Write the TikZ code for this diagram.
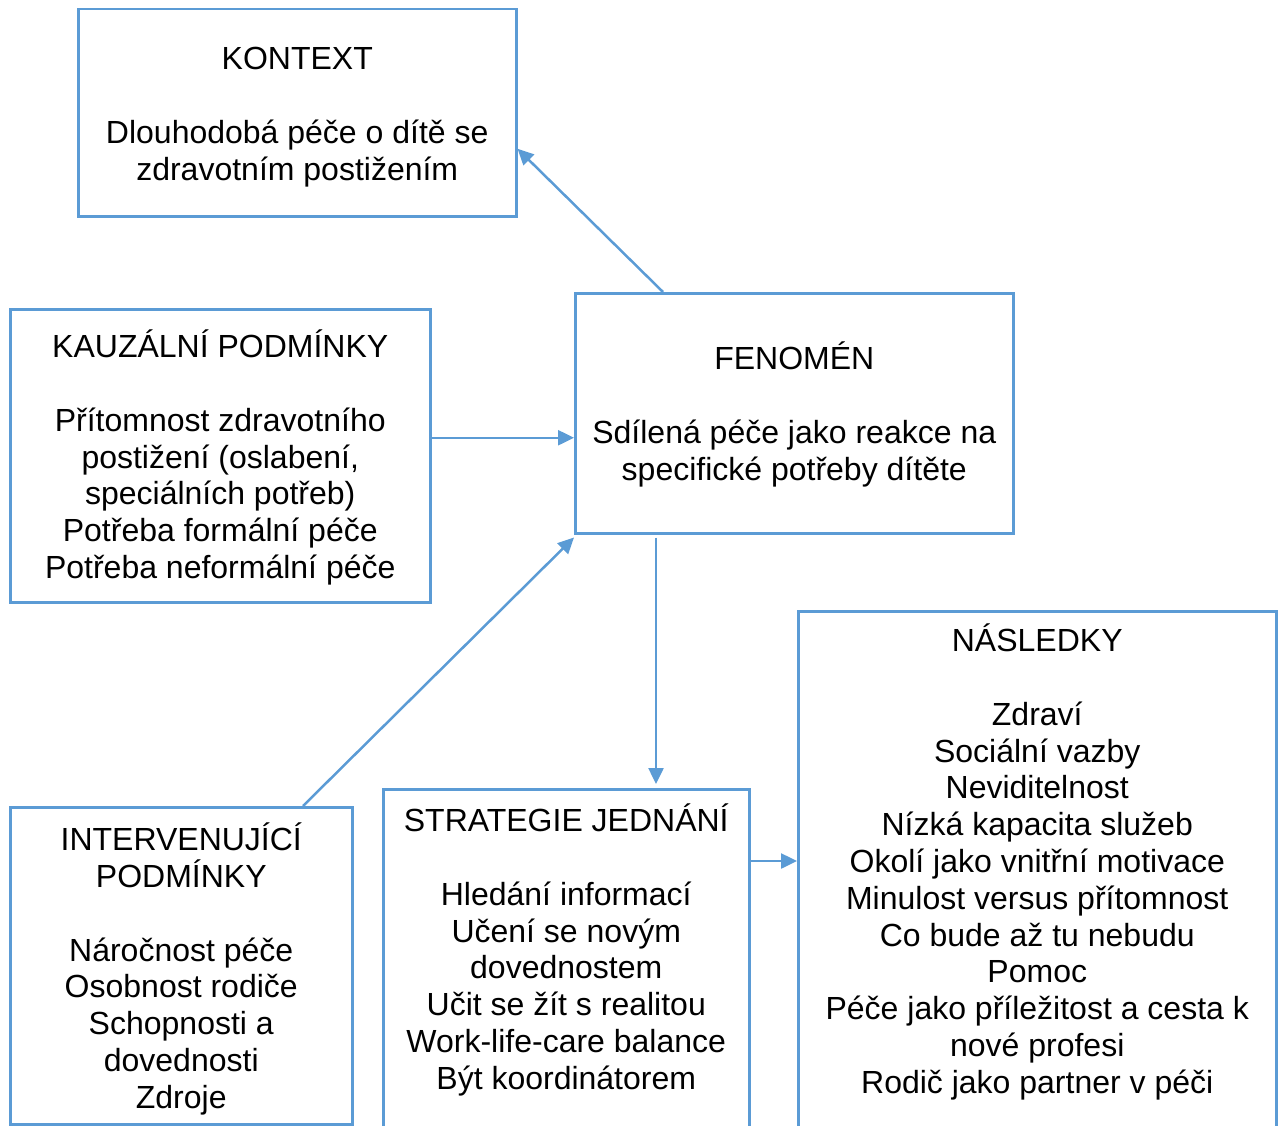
\documentclass[tikz,border=0pt]{standalone}
\usepackage{fontspec}
\setmainfont{Liberation Sans}
\usetikzlibrary{arrows.meta}
\definecolor{boxblue}{HTML}{5B9BD5}
\newcommand{\capstrut}{\rule{0pt}{30pt}}
\newcommand{\gapline}{\\[36.8pt]}
\tikzset{
  box/.style={draw=boxblue, line width=2.5pt, anchor=north west, inner sep=0pt},
  txt/.style={align=center, anchor=north, inner sep=0pt, font=\fontsize{32}{36.8}\selectfont},
  arr/.style={draw=boxblue, line width=2.5pt, -{Triangle[length=16pt,width=15pt]}}
}
\begin{document}
\begin{tikzpicture}[x=1pt, y=-1pt]
\clip (0,0) rectangle (1279,1126);

% boxes
\node[box, minimum width=438pt, minimum height=207pt] (kontext) at (77,8) {};
\node[box, minimum width=420pt, minimum height=293pt] (kauzalni) at (9,308) {};
\node[box, minimum width=438pt, minimum height=240pt] (fenomen) at (574,292) {};
\node[box, minimum width=342pt, minimum height=317pt] (interv) at (9,806) {};
\node[box, minimum width=366pt, minimum height=360pt] (strategie) at (382,788) {};
\node[box, minimum width=478pt, minimum height=540pt] (nasledky) at (797,610) {};

% texts
\node[txt] (kontext-t) at ([yshift=-31.5pt]kontext.north)
  {\capstrut KONTEXT\gapline Dlouhodobá péče o dítě se\\zdravotním postižením};
\node[txt] (kauzalni-t) at ([yshift=-19.5pt]kauzalni.north)
  {\capstrut KAUZÁLNÍ PODMÍNKY\gapline Přítomnost zdravotního\\postižení (oslabení,\\speciálních potřeb)\\Potřeba formální péče\\Potřeba neformální péče};
\node[txt] (fenomen-t) at ([yshift=-47.5pt]fenomen.north)
  {\capstrut FENOMÉN\gapline Sdílená péče jako reakce na\\specifické potřeby dítěte};
\node[txt] (interv-t) at ([yshift=-14.5pt]interv.north)
  {\capstrut INTERVENUJÍCÍ\\PODMÍNKY\gapline Náročnost péče\\Osobnost rodiče\\Schopnosti a\\dovednosti\\Zdroje};
\node[txt] (strategie-t) at ([yshift=-13.5pt]strategie.north)
  {\capstrut STRATEGIE JEDNÁNÍ\gapline Hledání informací\\Učení se novým\\dovednostem\\Učit se žít s realitou\\Work-life-care balance\\Být koordinátorem};
\node[txt] (nasledky-t) at ([yshift=-11.5pt]nasledky.north)
  {\capstrut NÁSLEDKY\gapline Zdraví\\Sociální vazby\\Neviditelnost\\Nízká kapacita služeb\\Okolí jako vnitřní motivace\\Minulost versus přítomnost\\Co bude až tu nebudu\\Pomoc\\Péče jako příležitost a cesta k\\nové profesi\\Rodič jako partner v péči};

% connectors
\draw[arr] ([xshift=89pt]fenomen.north west) -- ([yshift=-36pt]kontext.east);
\draw[arr] ([yshift=18pt]kauzalni.east) coordinate (k-out) -- (k-out -| fenomen.west);
\draw[arr] ([xshift=294pt]interv.north west) -- ([yshift=-3pt]fenomen.south west);
\draw[arr, shorten <=3pt, shorten >=4pt] ([xshift=82pt]fenomen.south west) -- ([xshift=274pt]strategie.north west);
\draw[arr] ([yshift=-73pt]strategie.north east) coordinate (s-out) -- (s-out -| nasledky.west);
\end{tikzpicture}
\end{document}
